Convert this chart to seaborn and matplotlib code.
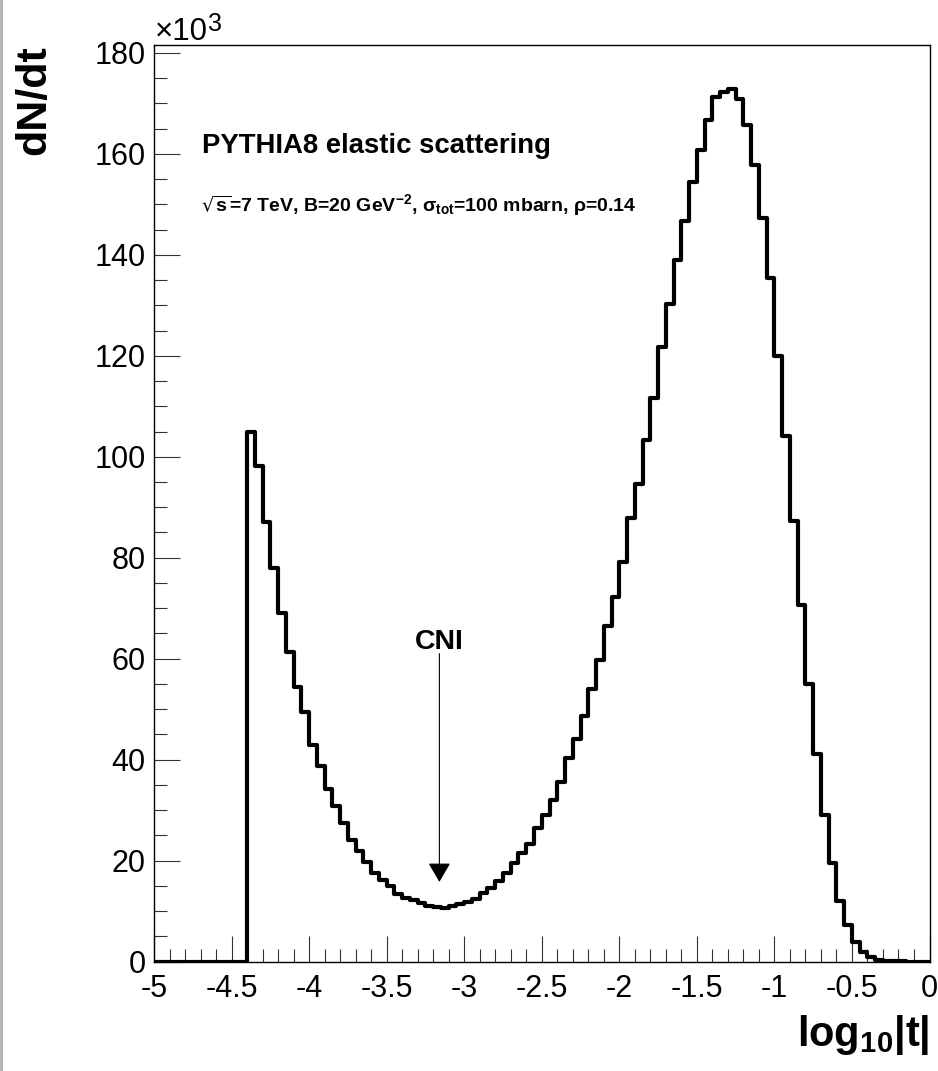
import numpy as np
import pandas as pd
import matplotlib
matplotlib.use("Agg")
import matplotlib.pyplot as plt
import seaborn as sns

# histogram of log10|t|: 100 bins of 0.05 from -5 to 0, dN/dt in units of 10^3
bin_lo = -5.0
bin_hi = 0.0
counts_k = [
    0, 0, 0, 0, 0, 0, 0, 0, 0, 0,
    0, 0, 105.0, 98.2, 87.0, 77.9, 69.0, 61.4, 54.5, 49.4,
    42.9, 38.8, 34.3, 30.8, 27.4, 24.2, 22.0, 19.7, 17.6, 16.2,
    14.9, 13.5, 12.6, 12.2, 11.6, 11.0, 10.8, 10.7, 11.0, 11.4,
    11.8, 12.4, 13.6, 14.6, 16.0, 17.6, 19.5, 21.5, 23.4, 26.4,
    29.0, 32.0, 35.6, 40.3, 44.2, 48.7, 54.1, 59.7, 66.5, 72.3,
    79.2, 87.8, 94.7, 103.4, 111.7, 121.8, 130.2, 138.9, 146.7, 154.5,
    160.7, 166.7, 171.2, 172.3, 172.9, 170.8, 165.8, 157.8, 147.2, 135.5,
    119.9, 104.2, 87.2, 70.7, 55.0, 41.2, 29.0, 19.6, 12.0, 7.3,
    3.9, 2.0, 0.9, 0.4, 0.15, 0.08, 0.05, 0.02, 0.01, 0.0,
]

title_text = "PYTHIA8 elastic scattering"
param_text = r"$\sqrt{s}$=7 TeV, B=20 GeV$^{-2}$, σ$_{tot}$=100 mbarn, ρ=0.14"
cni_x = -3.16
cni_y_text = 62.0
cni_y_tip = 15.8

sns.set_style("ticks")
plt.rcParams["font.family"] = ["Liberation Sans", "DejaVu Sans"]
plt.rcParams["axes.unicode_minus"] = False
plt.rcParams["mathtext.default"] = "regular"
for key in ["text.color", "axes.labelcolor", "xtick.labelcolor", "ytick.labelcolor"]:
    plt.rcParams[key] = "black"

nbins = len(counts_k)
bin_width = (bin_hi - bin_lo) / nbins
centers = bin_lo + bin_width * (np.arange(nbins) + 0.5)
df = pd.DataFrame({"log10t": centers, "dNdt": counts_k})

W, H = 938, 1071
fig = plt.figure(figsize=(W / 100, H / 100), dpi=100)
ax = fig.add_axes([154 / W, 1 - 961.7 / H, (929.5 - 154) / W, (961.7 - 45) / H])

sns.histplot(data=df, x="log10t", weights="dNdt", bins=nbins,
             binrange=(bin_lo, bin_hi), element="step", fill=False,
             color="black", linewidth=3, ax=ax)

ax.set_xlim(bin_lo, bin_hi)
ax.set_ylim(0, max(counts_k) * 1.05)

xt = np.arange(-5, 0.01, 0.5)
ax.set_xticks(xt, [f"{v:g}" for v in xt])
ax.set_xticks(np.arange(-5, 0.01, 0.1), minor=True)
yt = np.arange(0, 181, 20)
ax.set_yticks(yt, [f"{v:g}" for v in yt])
ax.set_yticks(np.arange(0, 181, 5), minor=True)

ax.tick_params(which="both", direction="in", color="#333333", width=0.8,
               top=False, right=False, labelsize=22, labelcolor="black")
ax.tick_params(which="major", length=18.5)
ax.tick_params(which="minor", length=9.5)
ax.tick_params(axis="y", pad=6)
ax.tick_params(axis="x", pad=9)
for s in ax.spines.values():
    s.set_visible(True)
    s.set_linewidth(1.0)
    s.set_color("black")

ax.set_ylabel("dN/dt", fontsize=31, fontweight="bold", loc="top", color="black")
ax.yaxis.set_label_coords(-0.129, 1.0)
ax.set_xlabel("log$_{10}$|t|", fontsize=30, fontweight="bold", loc="right",
              color="black")
ax.xaxis.set_label_coords(1.0, -0.056)

# x10^3 exponent above the y axis
fig.text(155 / W, 1 - 40 / H, "×10", fontsize=22.5, va="baseline")
fig.text(208 / W, 1 - 31 / H, "3", fontsize=18, va="baseline")

ax.text(-4.69, 160.1, title_text, fontsize=19.8, fontweight="bold", va="baseline")
ax.text(-4.70, 148.7, param_text, fontsize=14, fontweight="bold", va="baseline")

ax.text(cni_x, cni_y_text, "CNI", fontsize=20.5, fontweight="bold",
        ha="center", va="baseline")
ax.annotate("", xy=(cni_x, cni_y_tip), xytext=(cni_x, cni_y_text - 1.0),
            arrowprops=dict(arrowstyle="-|>,head_length=0.6,head_width=0.35",
                            mutation_scale=20, color="black", lw=0.8,
                            shrinkA=0, shrinkB=0))

# grey strip at the left edge of the canvas
fig.add_artist(plt.Rectangle((0, 0), 3 / W, 1, transform=fig.transFigure,
                             color="#b4b4b4", lw=0))

fig.savefig("out.png", dpi=100)
